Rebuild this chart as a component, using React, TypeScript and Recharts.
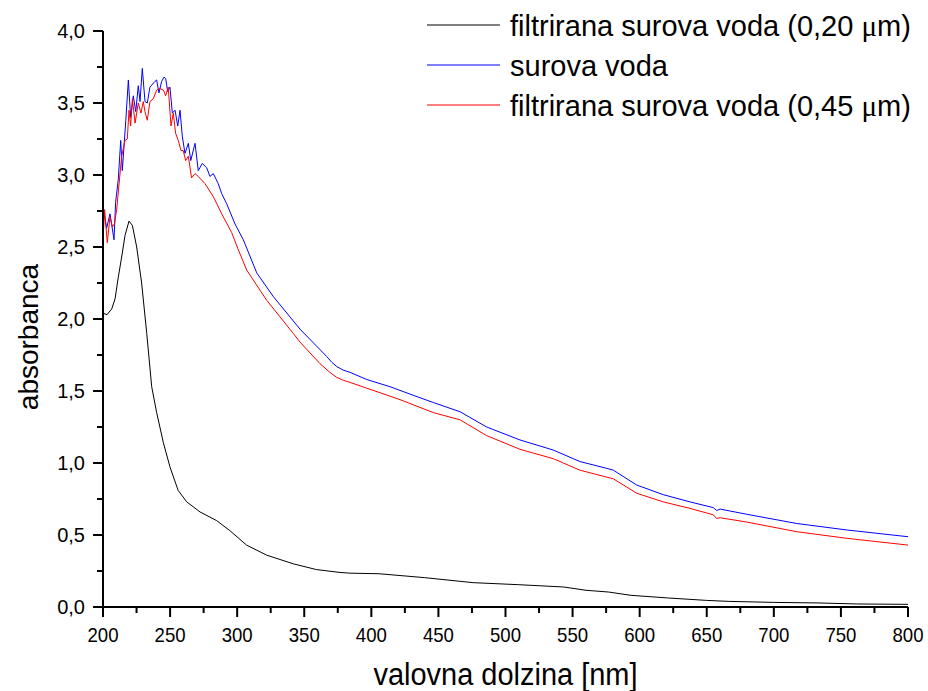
import React from "react";
import { LineChart, Line, XAxis, YAxis, Legend } from "recharts";

// wavelength [nm] / absorbance
const wlFiltered020 = [
  200, 203, 206.5, 209, 211.4, 213.9, 216.4, 219.4, 221.9, 225.1, 228.8, 232.6, 236.3, 240,
  245, 250, 256, 262.4, 272.3, 284.7, 294.6, 307, 322, 341.8, 359, 376.6, 384, 405.8, 439.5,
  475.9, 509.5, 543.2, 560, 576.8, 593.6, 621.6, 649.7, 666.5, 700, 733.7, 761.8, 800,
];
const absFiltered020 = [
  2.04, 2.03, 2.07, 2.14, 2.29, 2.43, 2.58, 2.68, 2.65, 2.5, 2.25, 1.9, 1.53, 1.35,
  1.14, 0.97, 0.81, 0.73, 0.66, 0.6, 0.53, 0.43, 0.36, 0.3, 0.26, 0.24, 0.235, 0.231, 0.204,
  0.169, 0.155, 0.139, 0.116, 0.104, 0.081, 0.0625, 0.046, 0.039, 0.032, 0.028, 0.021, 0.0185,
];

const wlRaw = [
  200, 202.7, 205.2, 206.4, 208.2, 209.4, 211.4, 213.2, 214.4, 217, 218.9, 220.6, 222.6, 224.4,
  226.3, 227.6, 229.3, 231.3, 233, 235, 238.7, 240, 241.7, 243.7, 245.5, 246.7, 248.2, 249.9,
  251.7, 253.7, 255.7, 257.4, 259.1, 261.1, 263.6, 265.4, 268.6, 271, 274, 277.3, 279.7, 282.2,
  285.9, 288.5, 292.2, 298.4, 304.6, 314.6, 327, 346.8, 366.7, 370.5, 374.2, 379, 384, 396.5,
  413.9, 431.3, 446.2, 466.1, 486, 510.8, 535.6, 555.5, 575.4, 580.4, 597.8, 617.6, 637.5, 654.9,
  657.4, 660, 679.8, 717, 754.3, 800,
];
const absRaw = [
  2.78, 2.63, 2.73, 2.66, 2.55, 2.81, 2.97, 3.24, 3.03, 3.38, 3.66, 3.4, 3.55, 3.44,
  3.62, 3.51, 3.74, 3.51, 3.5, 3.61, 3.65, 3.66, 3.57, 3.65, 3.68, 3.67, 3.58, 3.61,
  3.43, 3.45, 3.34, 3.45, 3.27, 3.15, 3.22, 3.1, 3.22, 3.03, 3.08, 3.05, 2.99, 3.01,
  2.94, 2.87, 2.8, 2.66, 2.55, 2.32, 2.155, 1.93, 1.74, 1.7, 1.67, 1.645, 1.63, 1.58,
  1.53, 1.47, 1.42, 1.356, 1.25, 1.16, 1.09, 1.01, 0.963, 0.95, 0.847, 0.78, 0.73, 0.69,
  0.67, 0.68, 0.644, 0.58, 0.535, 0.488,
];

const wlFiltered045 = [
  200, 201.2, 203.2, 205.2, 207, 208.5, 210.2, 213.9, 216.4, 218.1, 219.4, 220.6, 221.9, 223.9,
  226.3, 228.3, 230, 231.3, 233, 235, 237.5, 240, 242.5, 245, 246.7, 248.6, 250.7, 252.4,
  254.1, 256.1, 258.1, 259.8, 261.6, 263.6, 266, 268.6, 271, 276, 282.2, 288.5, 295.9, 300.9,
  307.1, 322, 341.8, 346.8, 361.7, 369, 374.2, 379, 384, 396.5, 421.4, 446.2, 466.1, 486, 510.8,
  535.6, 555.5, 580.4, 597.8, 617.6, 637.5, 654.9, 657.4, 660, 679.8, 717, 754.3, 800,
];
const absFiltered045 = [
  2.55, 2.76, 2.53, 2.71, 2.64, 2.66, 2.76, 3.13, 3.24, 3.25, 3.45, 3.34, 3.53, 3.36,
  3.5, 3.43, 3.51, 3.44, 3.38, 3.51, 3.53, 3.59, 3.6, 3.59, 3.55, 3.61, 3.34, 3.43,
  3.29, 3.24, 3.17, 3.17, 3.1, 3.13, 2.98, 3.01, 2.99, 2.94, 2.85, 2.73, 2.6, 2.48,
  2.34, 2.13, 1.9, 1.84, 1.69, 1.63, 1.595, 1.575, 1.56, 1.52, 1.44, 1.35, 1.3, 1.19, 1.095,
  1.03, 0.95, 0.89, 0.79, 0.73, 0.685, 0.64, 0.615, 0.62, 0.59, 0.523, 0.477, 0.43,
];

const xTicks = Array.from({ length: 25 }, (_, i) => 200 + i * 25);
const yTicks = Array.from({ length: 17 }, (_, i) => i * 0.25);

const series = [
  { name: "filtrirana surova voda (0,20 ", unit: true, color: "#000000", wl: wlFiltered020, abs: absFiltered020 },
  { name: "surova voda", unit: false, color: "#0000ff", wl: wlRaw, abs: absRaw },
  { name: "filtrirana surova voda (0,45 ", unit: true, color: "#ff0000", wl: wlFiltered045, abs: absFiltered045 },
];

const toRows = (wl: number[], abs: number[]) => wl.map((x, i) => ({ x, y: abs[i] }));

const sans = "'Liberation Sans', Arial, sans-serif";

const XTick = ({ x, y, payload }: any) => {
  const major = payload.value % 50 === 0;
  return (
    <g>
      <line x1={x} x2={x} y1={y} y2={y + (major ? 10 : 6)} stroke="#000" strokeWidth={2} />
      {major && (
        <text
          x={x}
          y={y + 35}
          textAnchor="middle"
          fontFamily={sans}
          fontSize={21}
          textLength={31}
          lengthAdjust="spacingAndGlyphs"
          fill="#000"
        >
          {payload.value}
        </text>
      )}
    </g>
  );
};

const YTick = ({ x, y, payload }: any) => {
  const v = payload.value;
  const major = Math.abs(v * 2 - Math.round(v * 2)) < 1e-6;
  return (
    <g>
      <line x1={x} x2={x - (major ? 10 : 6)} y1={y} y2={y} stroke="#000" strokeWidth={2} />
      {major && (
        <text x={x - 18} y={y + 7} textAnchor="end" fontFamily={sans} fontSize={20} fill="#000">
          {v.toFixed(1).replace(".", ",")}
        </text>
      )}
    </g>
  );
};

const LegendBox = () => (
  <div style={{ fontFamily: sans, fontSize: 29, color: "#000" }}>
    {series.map((s) => (
      <div key={s.color} style={{ height: 40, display: "flex", alignItems: "center", whiteSpace: "nowrap" }}>
        <svg width={83} height={40}>
          <line x1={0} x2={73} y1={20} y2={20} stroke={s.color} strokeWidth={1} />
        </svg>
        <span style={{ paddingTop: 3 }}>
          {s.name}
          {s.unit && (
            <>
              <span style={{ fontFamily: "'Liberation Serif', serif" }}>μ</span>m)
            </>
          )}
        </span>
      </div>
    ))}
  </div>
);

export default function App() {
  return (
    <div style={{ position: "absolute", left: 0, top: 0, width: 928, height: 691, background: "#fff" }}>
      <LineChart width={928} height={691} margin={{ top: 31, right: 20, bottom: 0, left: 43 }}>
        <XAxis
          type="number"
          dataKey="x"
          domain={[200, 800]}
          ticks={xTicks}
          interval={0}
          allowDataOverflow
          height={84}
          tickSize={0}
          tickMargin={0}
          tickLine={false}
          axisLine={{ stroke: "#000", strokeWidth: 2 }}
          tick={<XTick />}
          label={{
            content: ({ viewBox }: any) => (
              <text
                x={viewBox.x + viewBox.width / 2}
                y={viewBox.y + 78}
                textAnchor="middle"
                fontFamily={sans}
                fontSize={31}
                textLength={264}
                lengthAdjust="spacingAndGlyphs"
                fill="#000"
              >
                valovna dolzina [nm]
              </text>
            ),
          }}
        />
        <YAxis
          type="number"
          domain={[0, 4]}
          ticks={yTicks}
          interval={0}
          allowDataOverflow
          width={60}
          tickSize={0}
          tickMargin={0}
          tickLine={false}
          axisLine={{ stroke: "#000", strokeWidth: 2 }}
          tick={<YTick />}
          label={{
            content: () => (
              <text
                x={38}
                y={337}
                transform="rotate(-90, 38, 337)"
                textAnchor="middle"
                fontFamily={sans}
                fontSize={28}
                fill="#000"
              >
                absorbanca
              </text>
            ),
          }}
        />
        <Legend
          layout="horizontal"
          verticalAlign="middle"
          align="center"
          wrapperStyle={{ top: 5, left: 427, width: 501, height: 120 }}
          content={() => <LegendBox />}
        />
        {[series[1], series[2], series[0]].map((s) => (
          <Line
            key={s.color}
            data={toRows(s.wl, s.abs)}
            dataKey="y"
            name={s.name}
            type="linear"
            stroke={s.color}
            strokeWidth={1}
            dot={false}
            activeDot={false}
            isAnimationActive={false}
          />
        ))}
      </LineChart>
    </div>
  );
}
